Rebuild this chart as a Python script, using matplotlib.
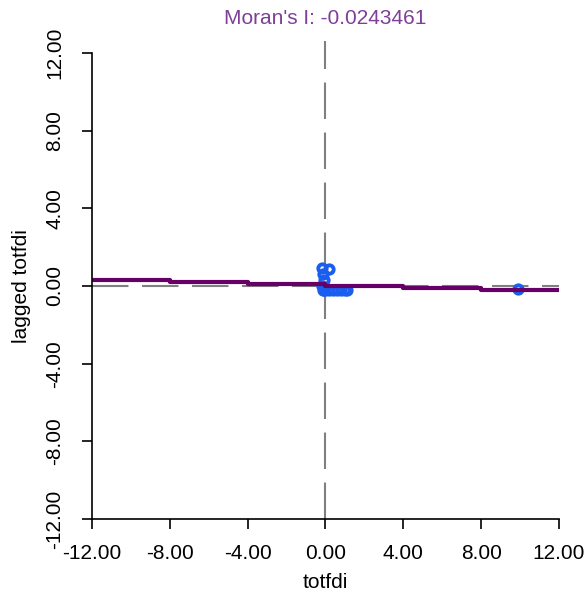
import numpy as np
import matplotlib
matplotlib.use('Agg')
import matplotlib.pyplot as plt

plt.rcParams['font.family'] = ['Liberation Sans', 'DejaVu Sans']

moran_i = -0.0243461
ticks = [-12, -8, -4, 0, 4, 8, 12]

# standardized values
x_vals = [-0.2, -0.15, -0.1, 0.2, -0.2, -0.15, -0.1, 0.0, 0.2, 0.4, 0.6, 0.8, 1.0, 1.1, 9.9]
y_vals = [0.95, 0.6, 0.3, 0.9, 0.0, -0.2, -0.2, -0.2, -0.2, -0.2, -0.2, -0.2, -0.2, -0.2, -0.15]

fig = plt.figure(figsize=(5.87, 5.97), dpi=100)
ax = fig.add_axes([0.1567, 0.1307, 0.7956, 0.7805])

ax.plot([-12, 12], [0, 0], color='#808080', lw=1.5, dashes=(17.5, 6.5))
ax.plot([0, 0], [-12, 12.6], color='#808080', lw=1.5, dashes=(17.5, 6.5), clip_on=False)

ax.plot(x_vals, y_vals, 'o', ms=6, mfc='none', mec='#1a5ef0', mew=2.8)

# regression line, drawn stepwise like the original raster
edges = np.array(ticks, dtype=float)
ax.step(edges, moran_i * np.append(edges[:-1], edges[-2]), where='post',
        color='#660066', lw=3)

ax.set_xlim(-12, 12)
ax.set_ylim(-12, 12)
ax.set_xticks(ticks)
ax.set_yticks(ticks)
ax.set_xticklabels(['%.2f' % t for t in ticks], fontsize=15)
ax.set_yticklabels(['%.2f' % t for t in ticks], fontsize=15, rotation=90, va='center')
ax.tick_params(direction='out', length=7, width=1.2, color='black')
ax.tick_params(axis='x', pad=11)
ax.tick_params(axis='y', pad=13)
for s in ['top', 'right']:
    ax.spines[s].set_visible(False)
for s in ['left', 'bottom']:
    ax.spines[s].set_linewidth(1.2)

ax.set_xlabel('totfdi', fontsize=15, labelpad=7)
ax.set_ylabel('lagged totfdi', fontsize=15, labelpad=10)
ax.set_title("Moran's I: -0.0243461", fontsize=15, color='#7f3f98', pad=21)

fig.savefig('out.png', dpi=100)
